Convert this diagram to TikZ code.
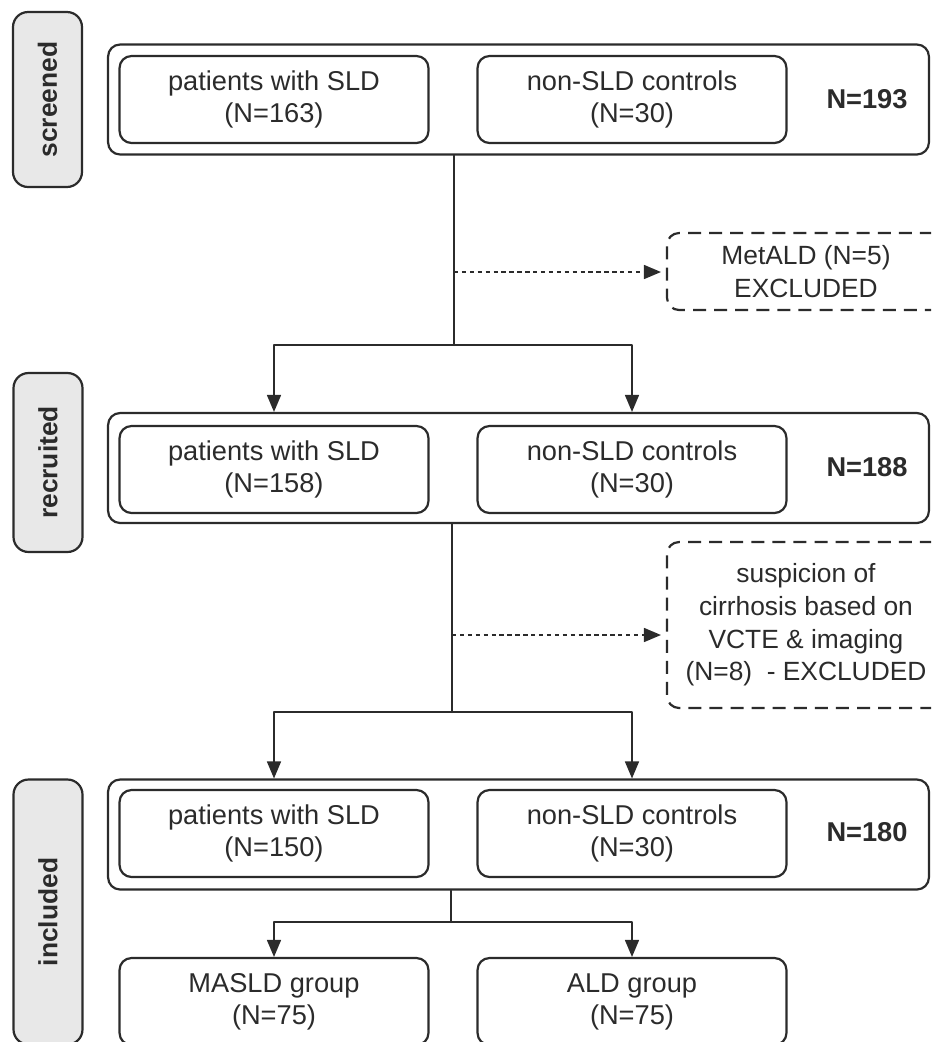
\documentclass[tikz,border=0pt]{standalone}
\usepackage{fontspec}
\setmainfont{Liberation Sans}
\usetikzlibrary{arrows}

\begin{document}
\begin{tikzpicture}[line cap=round,line join=round,>=triangle 45,x=0.02cm,y=-0.02cm,
  ln/.style={draw=lncol,line width=1.25pt},
  sidelab/.style={ln,fill=lgray,rotate=90,rounded corners=0.3cm,minimum width=3.5cm,minimum height=1.38cm,inner sep=0pt,text=lncol,font=\bfseries\fontsize{15}{18}\selectfont},
  outbox/.style={ln,rounded corners=0.24cm,minimum width=16.42cm,minimum height=2.2cm,inner sep=0pt},
  inbox/.style={ln,rounded corners=0.24cm,minimum width=6.18cm,minimum height=1.74cm,inner sep=0pt,align=center,text=lncol,font=\fontsize{15.5}{18.2}\selectfont},
  nlab/.style={text=lncol,inner sep=0pt,font=\bfseries\fontsize{15.5}{18.2}\selectfont},
  exbox/.style={draw=lncol,line width=1.25pt,line cap=butt,dash pattern=on 7.4pt off 4.6pt,rounded corners=0.24cm,minimum width=5.56cm,inner sep=0pt,align=center,text=lncol,font=\fontsize{15}{18.6}\selectfont},
  dasharr/.style={ln,line cap=butt,dash pattern=on 2.5pt off 2pt,shorten >=0.1cm}]
\definecolor{lncol}{rgb}{0.17,0.17,0.17}
\definecolor{lgray}{rgb}{0.91,0.91,0.91}
\useasboundingbox (0,0) rectangle (931,1042);
\clip (0,0) rectangle (931,1042);
% stage labels
\node[sidelab] (scr) at (47.5,99.5) {screened};
\node[sidelab,minimum width=3.58cm] (rec) at (48,462.5) {recruited};
\node[sidelab,minimum width=5.3cm] (inc) at (48,912) {included};
% screened
\node[outbox] (o1) at (518.5,99.5) {};
\node[inbox] (p1) at (274,99.5) {patients with SLD\\(N=163)};
\node[inbox] (c1) at (632,99.5) {non-SLD controls\\(N=30)};
\node[nlab] (n1) at (867,99.5) {N=193};
\node[exbox,minimum height=1.54cm] (ex1) at (806,271.5) {MetALD (N=5)\\EXCLUDED};
% recruited
\node[outbox] (o2) at (518.5,468) {};
\node[inbox] (p2) at (274,469.5) {patients with SLD\\(N=158)};
\node[inbox] (c2) at (632,469.5) {non-SLD controls\\(N=30)};
\node[nlab] (n2) at (867,467) {N=188};
\node[exbox,minimum height=3.32cm] (ex2) at (806,625) {suspicion of\\cirrhosis based on\\VCTE \& imaging\\(N=8)\ \ - EXCLUDED};
% included
\node[outbox] (o3) at (518.5,834.5) {};
\node[inbox] (p3) at (274,833.5) {patients with SLD\\(N=150)};
\node[inbox] (c3) at (632,833.5) {non-SLD controls\\(N=30)};
\node[nlab] (n3) at (867,832) {N=180};
\node[inbox] (g1) at (274,1001.5) {MASLD group\\(N=75)};
\node[inbox] (g2) at (632,1001.5) {ALD group\\(N=75)};
% connectors
\coordinate (b1) at (454,345);
\coordinate (d1) at (454,272);
\draw[ln] (o1.south -| b1) -- (b1);
\draw[ln,->] (b1) -| (o2.north -| p2);
\draw[ln,->] (b1) -| (o2.north -| c2);
\draw[dasharr,->] (d1) -- (d1 -| ex1.west);
\coordinate (b2) at (452,712);
\coordinate (d2) at (452,635);
\draw[ln] (o2.south -| b2) -- (b2);
\draw[ln,->] (b2) -| (o3.north -| p3);
\draw[ln,->] (b2) -| (o3.north -| c3);
\draw[dasharr,->] (d2) -- (d2 -| ex2.west);
\coordinate (b3) at (451,922);
\draw[ln] (o3.south -| b3) -- (b3);
\draw[ln,->] (b3) -| (g1.north);
\draw[ln,->] (b3) -| (g2.north);
\end{tikzpicture}
\end{document}
